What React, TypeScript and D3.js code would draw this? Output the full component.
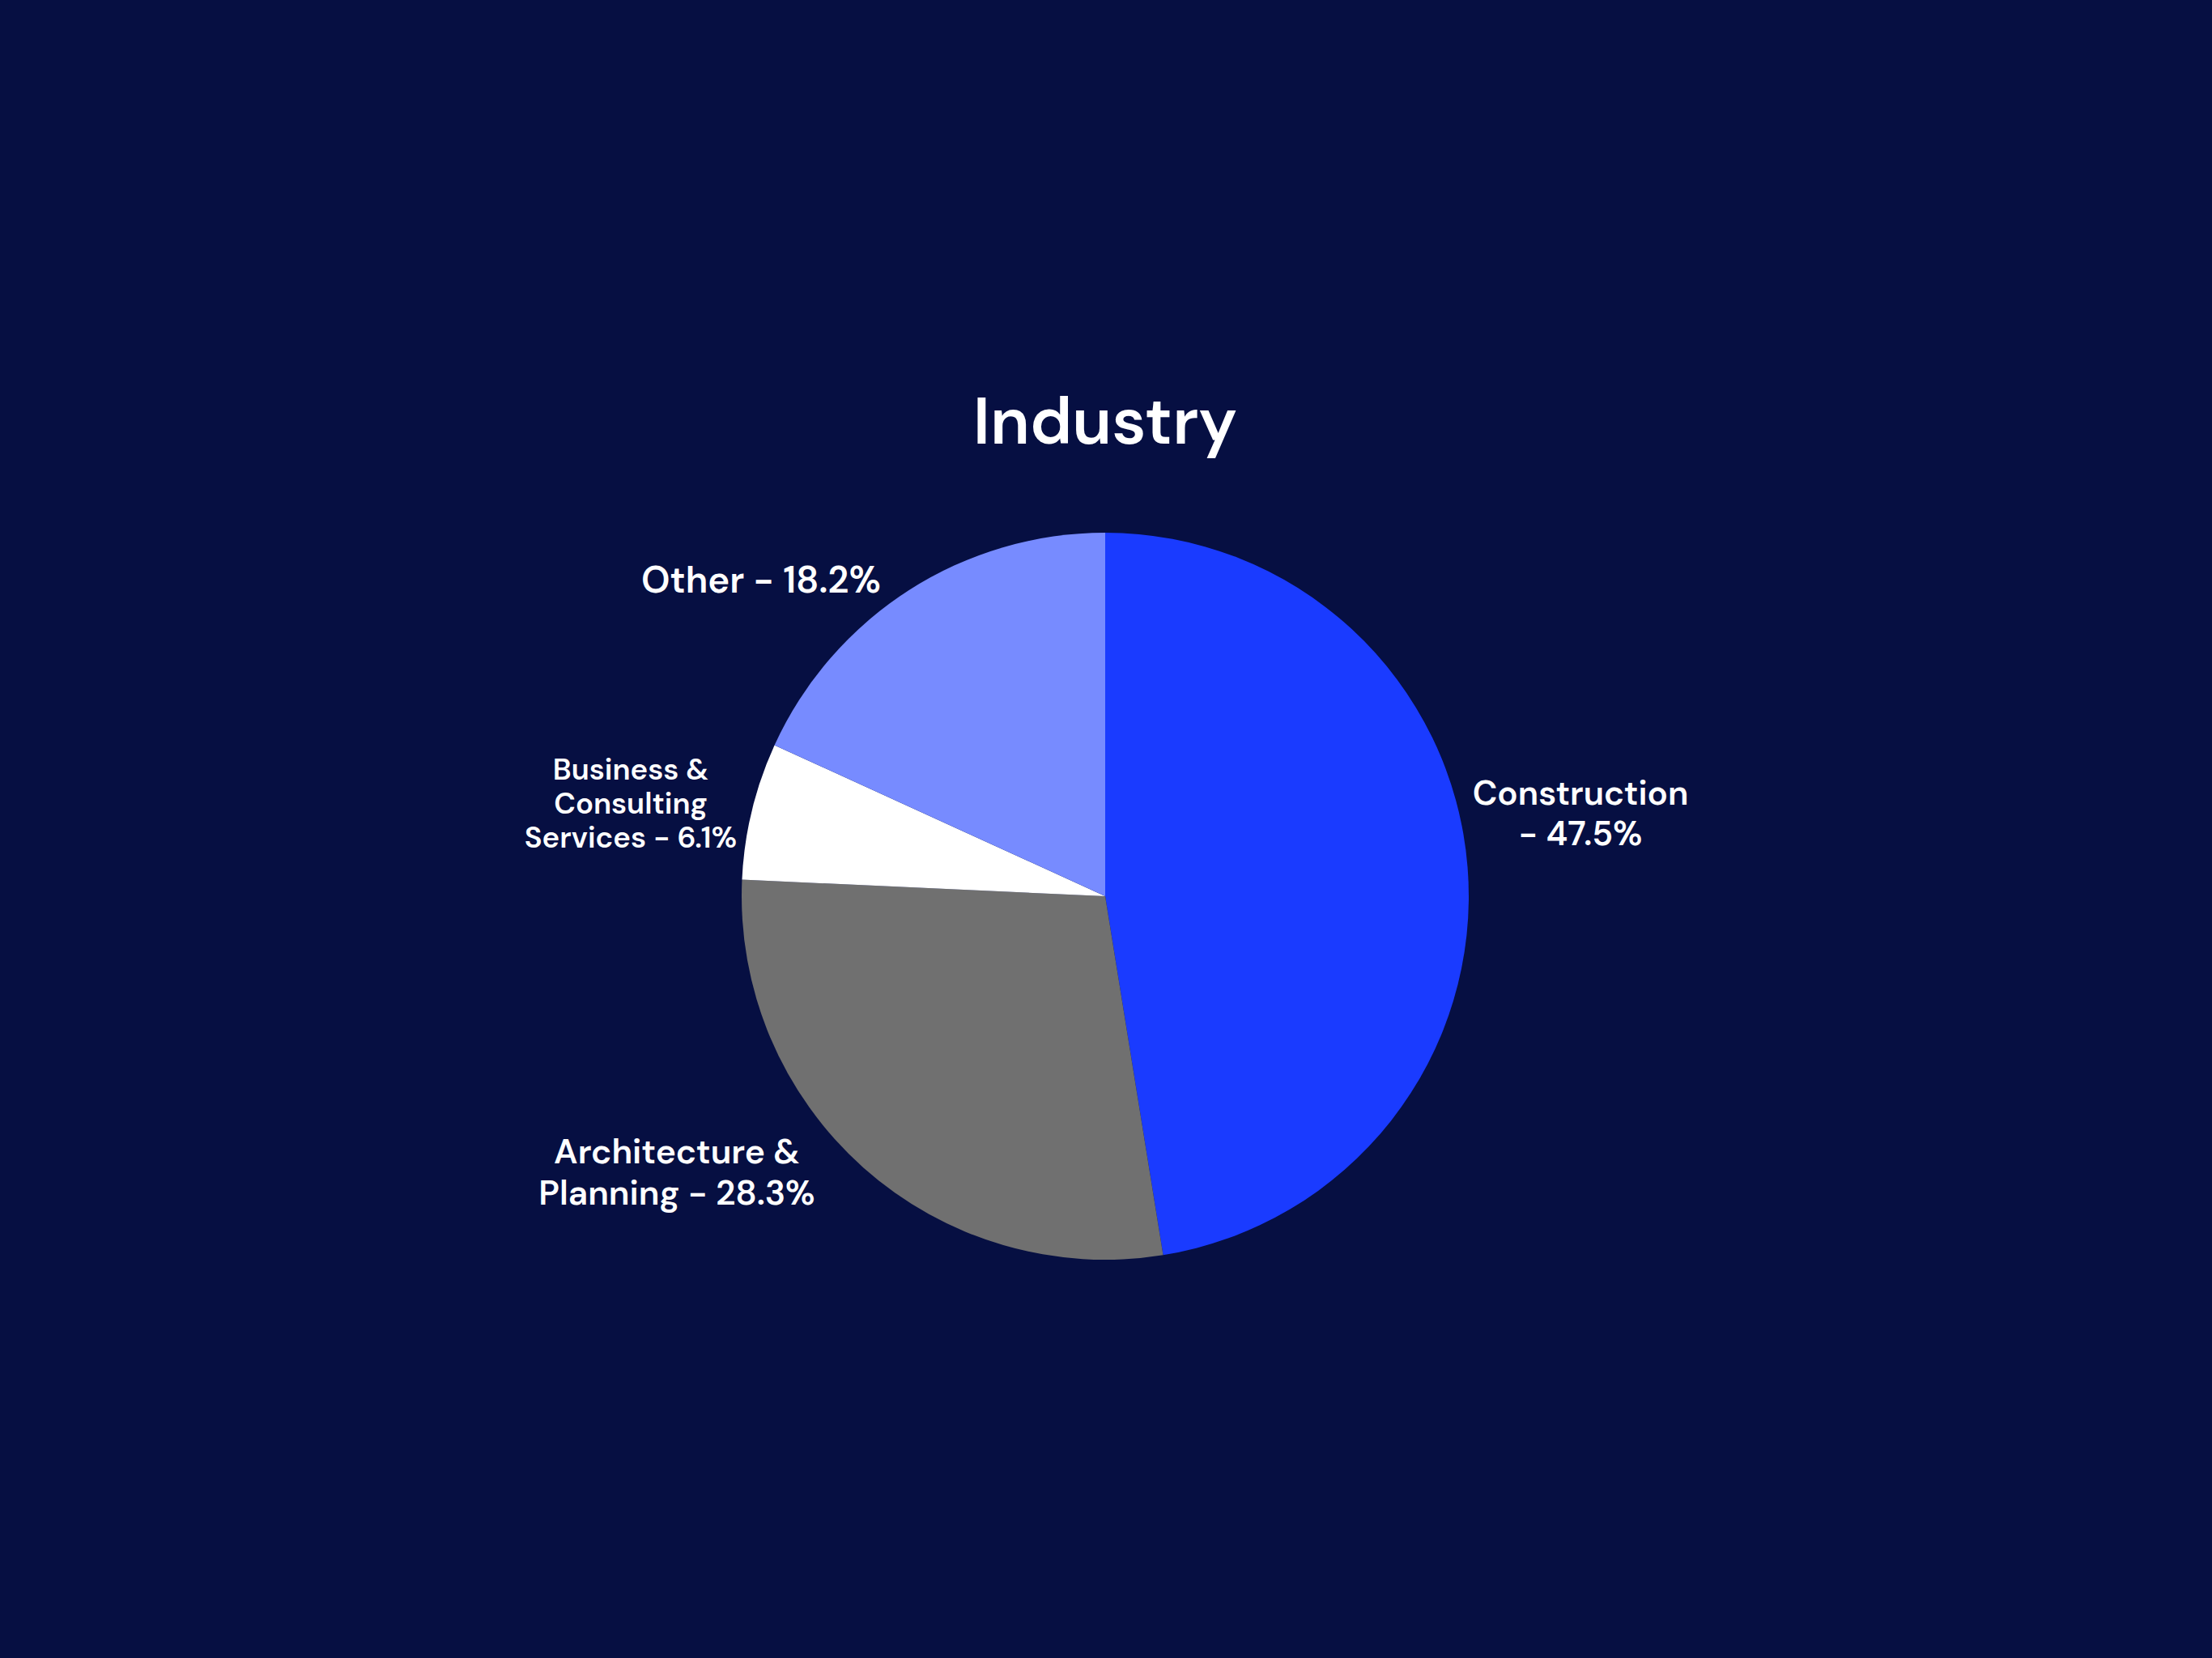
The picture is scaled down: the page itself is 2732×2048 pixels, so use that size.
import React from "react";
import * as d3 from "d3";

const categories = ["Construction", "Architecture & Planning", "Business & Consulting Services", "Other"];
const values = [47.5, 28.3, 6.1, 18.2];
const labelLines = [
  ["Construction", "- 47.5%"],
  ["Architecture &", "Planning - 28.3%"],
  ["Business &", "Consulting", "Services - 6.1%"],
  ["Other - 18.2%"],
];
const colors = ["#1A3BFF", "#707070", "#FFFFFF", "#778BFF"];

// label layout (x center, first baseline, font size, line height)
const labelLayout = [
  { x: 1952, y: 994, size: 42, lh: 50 },
  { x: 836, y: 1437, size: 42.5, lh: 51 },
  { x: 779, y: 963, size: 36.5, lh: 42 },
  { x: 940, y: 732, size: 45.5, lh: 50 },
];

const W = 2732;
const H = 2048;
const CX = 1365;
const CY = 1107;
const R = 449;

export default function App() {
  const pie = d3.pie<number>().sort(null).value((d) => d);
  const arcs = pie(values);
  const arc = d3.arc<d3.PieArcDatum<number>>().innerRadius(0).outerRadius(R);
  const font = "'DM Sans', Inter, 'Noto Sans', sans-serif";
  return (
    <svg
      width={W}
      height={H}
      style={{ position: "absolute", left: 0, top: 0, display: "block" }}
    >
      <rect x={0} y={0} width={W} height={H} fill="#060F42" />
      <text
        x={CX}
        y={548}
        textAnchor="middle"
        fill="#FFFFFF"
        fontFamily={font}
        fontWeight={600}
        fontSize={81}
      >
        Industry
      </text>
      <g transform={`translate(${CX},${CY})`}>
        {arcs.map((a, i) => (
          <path key={categories[i]} d={arc(a) || ""} fill={colors[i]} />
        ))}
      </g>
      {labelLines.map((lines, i) => {
        const L = labelLayout[i];
        return (
          <text
            key={categories[i]}
            textAnchor="middle"
            fill="#FFFFFF"
            fontFamily={font}
            fontWeight={600}
            fontSize={L.size}
          >
            {lines.map((t, j) => (
              <tspan key={j} x={L.x} y={L.y + j * L.lh}>
                {t}
              </tspan>
            ))}
          </text>
        );
      })}
    </svg>
  );
}
